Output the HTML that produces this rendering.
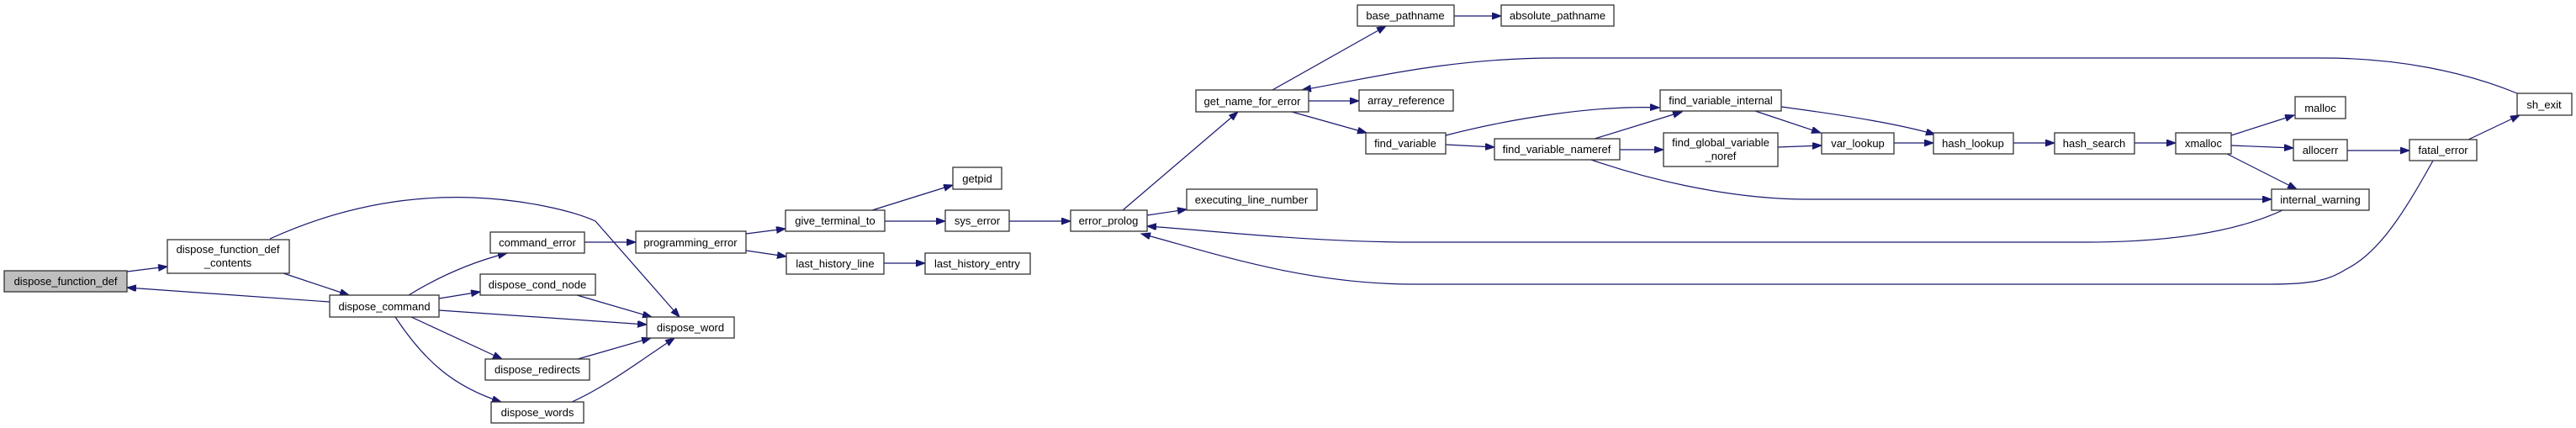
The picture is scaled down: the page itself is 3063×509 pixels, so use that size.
<!DOCTYPE html>
<html><head><meta charset="utf-8"><style>
html,body{margin:0;padding:0;background:#fff;}
svg{display:block;}
text{font-family:"Liberation Sans",Arial,sans-serif;font-size:13px;fill:#000;}
.n{fill:#fff;stroke:#333;stroke-width:1.3;}
.e{fill:none;stroke:#191970;stroke-width:1.2;}
</style></head><body>
<svg width="3063" height="509" viewBox="0 0 3063 509" xmlns="http://www.w3.org/2000/svg">
<defs><marker id="a" markerUnits="userSpaceOnUse" markerWidth="12" markerHeight="9" refX="11" refY="4" orient="auto"><path d="M0,0 L11,4 L0,8 z" fill="#191970" stroke="#191970"/></marker></defs>
<g marker-end="url(#a)">
<path class="e" d="M151,323 L199,317"/>
<path class="e" d="M392,359 L151,342"/>
<path class="e" d="M337,325 L415,351"/>
<path class="e" d="M321,284 C400,248 480,232 562,235 C620,237 680,250 708,263 L808,377"/>
<path class="e" d="M486,351 C520,330 560,312 603,301"/>
<path class="e" d="M522,355 L571,347"/>
<path class="e" d="M522,369 L769,386"/>
<path class="e" d="M489,377 L597,427"/>
<path class="e" d="M470,377 C505,430 540,460 596,478"/>
<path class="e" d="M686,351 L775,377"/>
<path class="e" d="M687,427 L774,402"/>
<path class="e" d="M680,478 C720,460 760,430 802,402"/>
<path class="e" d="M695,288 L756,288"/>
<path class="e" d="M887,278 L934,272"/>
<path class="e" d="M887,298 L935,305"/>
<path class="e" d="M1037,250 L1133,220"/>
<path class="e" d="M1052,263 L1124,263"/>
<path class="e" d="M1051,313 L1100,313"/>
<path class="e" d="M1200,263 L1273,263"/>
<path class="e" d="M1335,250 L1472,133"/>
<path class="e" d="M1364,256 L1411,249"/>
<path class="e" d="M2714,250 C2650,280 2560,288 2480,288 L1680,288 C1560,288 1450,275 1364,269"/>
<path class="e" d="M2893,191 C2860,250 2830,300 2790,320 C2770,333 2750,338 2700,338 L1680,338 C1550,338 1440,300 1357,278"/>
<path class="e" d="M1513,107 L1648,31"/>
<path class="e" d="M1729,19 L1785,19"/>
<path class="e" d="M1556,120 L1616,120"/>
<path class="e" d="M1536,133 L1625,158"/>
<path class="e" d="M2993,111 C2930,85 2850,69 2762,69 L1850,69 C1720,69 1620,95 1548,107"/>
<path class="e" d="M1719,161 C1800,140 1900,125 1973,128"/>
<path class="e" d="M1719,172 L1777,175"/>
<path class="e" d="M1896,165 L2000,133"/>
<path class="e" d="M1926,178 L1978,178"/>
<path class="e" d="M1892,190 C1950,210 2050,237 2150,237 L2701,237"/>
<path class="e" d="M2087,132 L2165,158"/>
<path class="e" d="M2118,127 C2200,138 2260,148 2301,160"/>
<path class="e" d="M2114,175 L2166,173"/>
<path class="e" d="M2252,170 L2299,170"/>
<path class="e" d="M2394,170 L2443,170"/>
<path class="e" d="M2538,170 L2587,170"/>
<path class="e" d="M2653,161 L2728,137"/>
<path class="e" d="M2653,173 L2727,176"/>
<path class="e" d="M2648,183 L2731,225"/>
<path class="e" d="M2791,179 L2865,179"/>
<path class="e" d="M2935,166 L2996,137"/>
</g>
<g text-anchor="middle">
<rect class="n" x="5" y="322" width="146" height="25" style="fill:#bfbfbf"/><text x="78" y="339">dispose_function_def</text>
<rect class="n" x="199" y="285" width="145" height="40"/><text x="271" y="301">dispose_function_def</text><text x="271" y="317">_contents</text>
<rect class="n" x="392" y="351" width="130" height="26"/><text x="457" y="369">dispose_command</text>
<rect class="n" x="583" y="276" width="112" height="25"/><text x="639" y="293">command_error</text>
<rect class="n" x="571" y="326" width="137" height="25"/><text x="639" y="343">dispose_cond_node</text>
<rect class="n" x="577" y="427" width="124" height="25"/><text x="639" y="444">dispose_redirects</text>
<rect class="n" x="584" y="478" width="110" height="25"/><text x="639" y="495">dispose_words</text>
<rect class="n" x="769" y="377" width="104" height="25"/><text x="821" y="394">dispose_word</text>
<rect class="n" x="756" y="275" width="131" height="26"/><text x="821" y="293">programming_error</text>
<rect class="n" x="934" y="250" width="118" height="25"/><text x="993" y="267">give_terminal_to</text>
<rect class="n" x="935" y="301" width="116" height="25"/><text x="993" y="318">last_history_line</text>
<rect class="n" x="1133" y="199" width="58" height="26"/><text x="1162" y="217">getpid</text>
<rect class="n" x="1124" y="250" width="76" height="25"/><text x="1162" y="267">sys_error</text>
<rect class="n" x="1100" y="301" width="125" height="25"/><text x="1162" y="318">last_history_entry</text>
<rect class="n" x="1273" y="250" width="91" height="25"/><text x="1318" y="267">error_prolog</text>
<rect class="n" x="1422" y="107" width="134" height="26"/><text x="1489" y="125">get_name_for_error</text>
<rect class="n" x="1411" y="225" width="155" height="25"/><text x="1488" y="242">executing_line_number</text>
<rect class="n" x="1614" y="6" width="115" height="25"/><text x="1671" y="23">base_pathname</text>
<rect class="n" x="1785" y="6" width="134" height="25"/><text x="1852" y="23">absolute_pathname</text>
<rect class="n" x="1616" y="107" width="112" height="25"/><text x="1672" y="124">array_reference</text>
<rect class="n" x="1624" y="158" width="95" height="25"/><text x="1671" y="175">find_variable</text>
<rect class="n" x="1777" y="165" width="149" height="25"/><text x="1851" y="182">find_variable_nameref</text>
<rect class="n" x="1974" y="107" width="144" height="25"/><text x="2046" y="124">find_variable_internal</text>
<rect class="n" x="1978" y="158" width="136" height="40"/><text x="2046" y="174">find_global_variable</text><text x="2046" y="190">_noref</text>
<rect class="n" x="2166" y="158" width="86" height="25"/><text x="2209" y="175">var_lookup</text>
<rect class="n" x="2299" y="158" width="95" height="25"/><text x="2346" y="175">hash_lookup</text>
<rect class="n" x="2443" y="158" width="95" height="25"/><text x="2490" y="175">hash_search</text>
<rect class="n" x="2587" y="158" width="66" height="25"/><text x="2620" y="175">xmalloc</text>
<rect class="n" x="2729" y="115" width="60" height="26"/><text x="2759" y="133">malloc</text>
<rect class="n" x="2727" y="166" width="64" height="25"/><text x="2759" y="183">allocerr</text>
<rect class="n" x="2865" y="166" width="80" height="25"/><text x="2905" y="183">fatal_error</text>
<rect class="n" x="2701" y="225" width="116" height="25"/><text x="2759" y="242">internal_warning</text>
<rect class="n" x="2993" y="111" width="65" height="26"/><text x="3025" y="129">sh_exit</text>
</g>
</svg>
</body></html>
